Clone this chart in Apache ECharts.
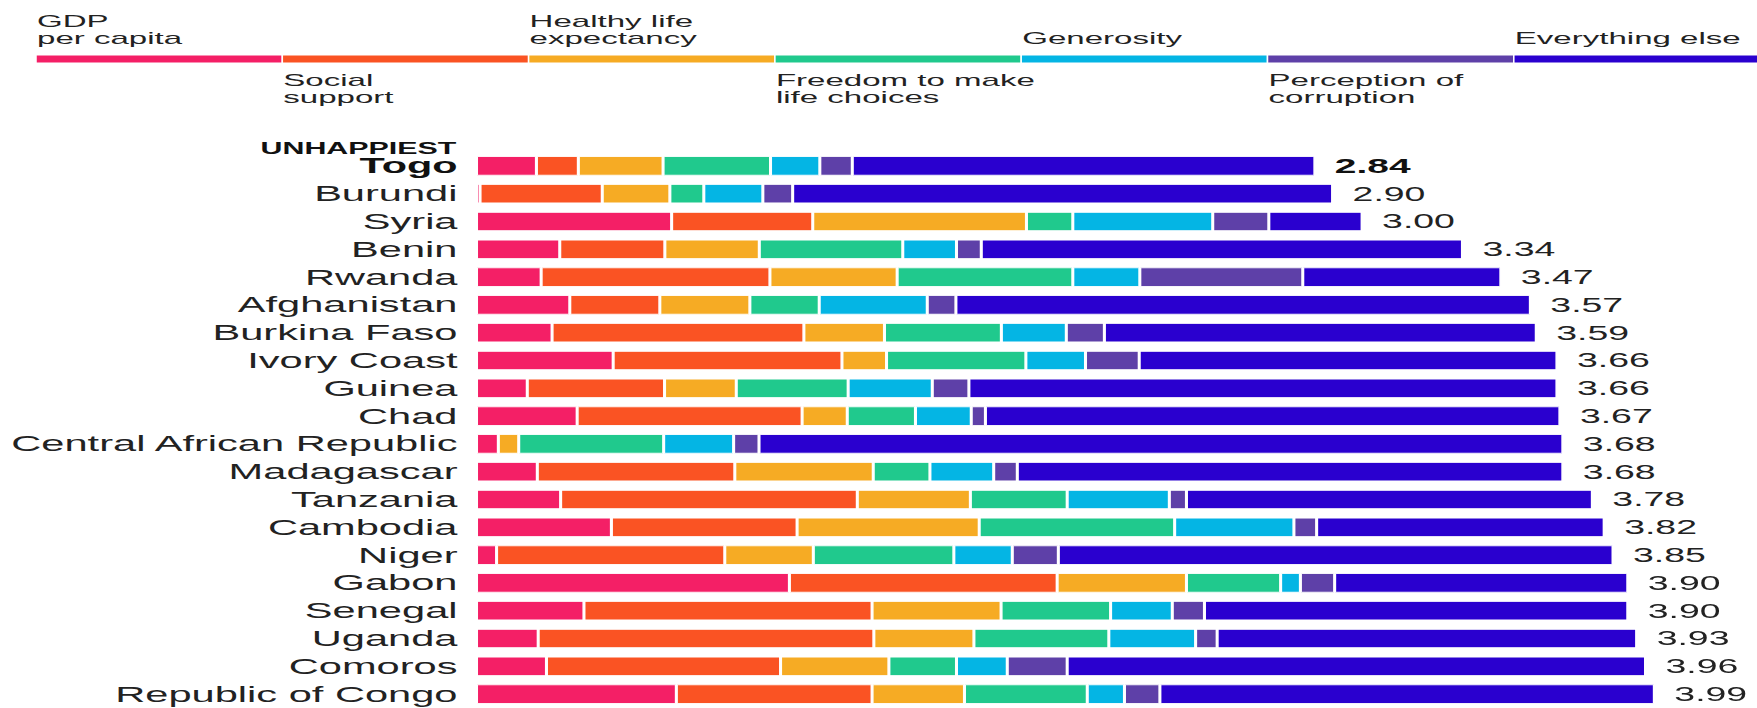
<!DOCTYPE html>
<html>
<head>
<meta charset="utf-8">
<script src="https://cdn.jsdelivr.net/npm/echarts@6/dist/echarts.min.js"></script>
<style>
  html, body { margin: 0; padding: 0; background: #fff; overflow: hidden; width: 1757px; height: 708px; }
  #chart { position: absolute; left: 0; top: 0; height: 708px; transform-origin: 0 0; }
</style>
</head>
<body>
<div id="chart"></div>
<script>
// Happiness score breakdown for the twenty unhappiest countries
const countries = ['Togo', 'Burundi', 'Syria', 'Benin', 'Rwanda', 'Afghanistan', 'Burkina Faso',
  'Ivory Coast', 'Guinea', 'Chad', 'Central African Republic', 'Madagascar', 'Tanzania',
  'Cambodia', 'Niger', 'Gabon', 'Senegal', 'Uganda', 'Comoros', 'Republic of Congo'];

const scores = [2.84, 2.90, 3.00, 3.34, 3.47, 3.57, 3.59, 3.66, 3.66, 3.67, 3.68, 3.68, 3.78,
  3.82, 3.85, 3.90, 3.90, 3.93, 3.96, 3.99];

const gdp = [0.203, 0.012, 0.661, 0.282, 0.219, 0.316, 0.256, 0.463, 0.172, 0.341, 0.074, 0.206,
  0.285, 0.457, 0.068, 1.060, 0.364, 0.209, 0.237, 0.677];
const social = [0.142, 0.414, 0.478, 0.356, 0.775, 0.305, 0.853, 0.775, 0.465, 0.762, 0, 0.669,
  1.005, 0.629, 0.773, 0.907, 0.976, 1.137, 0.793, 0.663];
const health = [0.287, 0.229, 0.724, 0.320, 0.431, 0.305, 0.273, 0.151, 0.243, 0.153, 0.069, 0.469,
  0.383, 0.617, 0.300, 0.438, 0.437, 0.339, 0.367, 0.313];
const freedom = [0.364, 0.115, 0.157, 0.486, 0.595, 0.235, 0.396, 0.472, 0.379, 0.231, 0.491, 0.192,
  0.328, 0.662, 0.476, 0.319, 0.371, 0.457, 0.229, 0.416];
const generosity = [0.167, 0.200, 0.474, 0.182, 0.227, 0.366, 0.220, 0.202, 0.285, 0.189, 0.237, 0.216,
  0.346, 0.404, 0.198, 0.067, 0.209, 0.294, 0.172, 0.126];
const corruption = [0.110, 0.101, 0.190, 0.084, 0.552, 0.097, 0.129, 0.182, 0.124, 0.048, 0.086, 0.080,
  0.058, 0.077, 0.156, 0.116, 0.109, 0.073, 0.203, 0.120];
const everythingElse = [1.567, 1.829, 0.316, 1.630, 0.671, 1.946, 1.463, 1.415, 1.992, 1.946, 2.723, 1.848,
  1.375, 0.974, 1.879, 0.993, 1.434, 1.421, 1.959, 1.675];

const factorNames = ['GDP per capita', 'Social support', 'Healthy life expectancy',
  'Freedom to make life choices', 'Generosity', 'Perception of corruption', 'Everything else'];
const legendLabels = ['GDP\nper capita', 'Social\nsupport', 'Healthy life\nexpectancy',
  'Freedom to make\nlife choices', 'Generosity', 'Perception of\ncorruption', 'Everything else'];
const factorColors = ['#F41F66', '#FA5323', '#F6AB24', '#20C98D', '#04B5E4', '#5E40A8', '#2A00CF'];
const factorData = [gdp, social, health, freedom, generosity, corruption, everythingElse];

// The whole drawing is laid out narrow and widened horizontally by STRETCH.
const STRETCH = 1.9;
const PAGE_W = 1757, PAGE_H = 708;
const W = PAGE_W / STRETCH;
const X = v => v / STRETCH;
const FONT = '"Liberation Sans", Arial, Helvetica, sans-serif';
const INK = '#222';

const el = document.getElementById('chart');
el.style.width = W + 'px';
el.style.transform = 'scaleX(' + STRETCH + ')';

const chart = echarts.init(el, null, { renderer: 'svg', width: W, height: PAGE_H });

// Legend strip: seven equal segments, names alternating above and below
const legendLeft = 36, legendSeg = 246.3, legendTop = 55, legendH = 8;
const graphics = [];
factorColors.forEach((c, i) => {
  const x0 = legendLeft + i * legendSeg;
  graphics.push({
    type: 'rect', silent: true,
    shape: { x: X(x0), y: legendTop, width: X(legendSeg), height: legendH },
    style: { fill: c, stroke: '#fff', lineWidth: 0.8 }
  });
  const above = i % 2 === 0;
  graphics.push({
    type: 'text', silent: true,
    style: {
      text: legendLabels[i], x: X(x0 + 1), y: above ? 46.6 : 72,
      align: 'left', verticalAlign: above ? 'bottom' : 'top',
      fontSize: 17.4, lineHeight: 17, fontFamily: FONT, fill: INK
    }
  });
});
graphics.push({
  type: 'text', silent: true,
  style: {
    text: 'UNHAPPIEST', x: X(456.4), y: 148, align: 'right', verticalAlign: 'middle',
    fontSize: 16, fontWeight: 'bold', fontFamily: FONT, fill: '#111'
  }
});

const series = factorData.map((d, i) => {
  const s = {
    type: 'bar', name: factorNames[i], stack: 'total', data: d, barWidth: 19.3,
    itemStyle: { color: factorColors[i], borderColor: '#fff', borderWidth: 0.8 },
    emphasis: { disabled: true }
  };
  if (i === factorData.length - 1) {
    s.label = {
      show: true, position: 'right', distance: X(20),
      formatter: p => p.dataIndex === 0 ? '{b|' + scores[0].toFixed(2) + '}' : scores[p.dataIndex].toFixed(2),
      fontSize: 19.7, fontFamily: FONT, color: INK,
      rich: { b: { fontSize: 20.5, fontWeight: 'bold', fontFamily: FONT, color: '#111' } }
    };
  }
  return s;
});

chart.setOption({
  animation: false,
  backgroundColor: '#fff',
  grid: { left: X(476.5), top: 152, width: X(1180.8), height: 556, containLabel: false },
  xAxis: { type: 'value', min: 0, max: 4, show: false },
  yAxis: {
    type: 'category', data: countries, inverse: true,
    axisLine: { show: false }, axisTick: { show: false }, splitLine: { show: false },
    axisLabel: {
      interval: 0, margin: X(19), fontSize: 21.9, fontFamily: FONT, color: INK,
      formatter: (v, i) => i === 0 ? '{b|' + v + '}' : v,
      rich: { b: { fontSize: 21.8, fontWeight: 'bold', fontFamily: FONT, color: '#111' } }
    }
  },
  graphic: graphics,
  series: series
});
</script>
</body>
</html>
